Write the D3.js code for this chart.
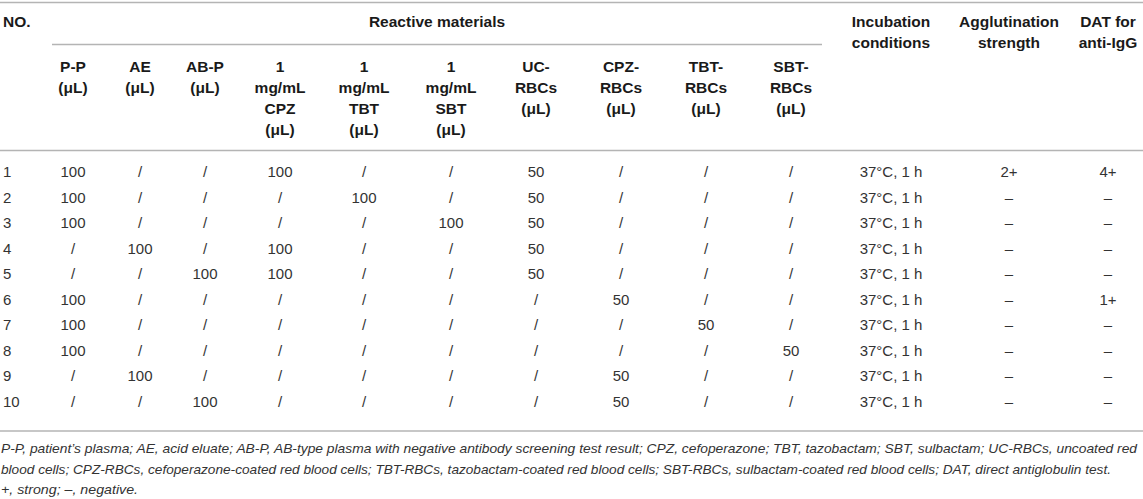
<!DOCTYPE html>
<html>
<head>
<meta charset="utf-8">
<script src="https://cdn.jsdelivr.net/npm/d3@7"></script>
<style>
  html, body { margin: 0; padding: 0; background: #fff; }
  svg { display: block; }
  .hd { font-family: "Liberation Sans", Arial, sans-serif; font-weight: bold; font-size: 15.5px; fill: #1a1a1a; }
  .cell { font-family: "Liberation Sans", Arial, sans-serif; font-size: 15px; fill: #333; }
  .note { font-family: "Liberation Sans", Arial, sans-serif; font-style: italic; font-size: 13px; fill: #333; }
  .rule { stroke: #b4b4b4; stroke-width: 1.6; }
</style>
</head>
<body>
<svg id="table"></svg>
<script>
// --- Table content ---
const groupLabel = "Reactive materials";
const noLabel = ["NO."];
const materialKeys = ["pp", "ae", "abp", "cpz", "tbt", "sbt", "ucRbc", "cpzRbc", "tbtRbc", "sbtRbc"];
const materialHeaders = [
  ["P-P", "(μL)"],
  ["AE", "(μL)"],
  ["AB-P", "(μL)"],
  ["1", "mg/mL", "CPZ", "(μL)"],
  ["1", "mg/mL", "TBT", "(μL)"],
  ["1", "mg/mL", "SBT", "(μL)"],
  ["UC-", "RBCs", "(μL)"],
  ["CPZ-", "RBCs", "(μL)"],
  ["TBT-", "RBCs", "(μL)"],
  ["SBT-", "RBCs", "(μL)"]
];
const resultKeys = ["incubation", "agglutination", "dat"];
const resultHeaders = [
  ["Incubation", "conditions"],
  ["Agglutination", "strength"],
  ["DAT for", "anti-IgG"]
];

const rowNo = ["1", "2", "3", "4", "5", "6", "7", "8", "9", "10"];
const pp = ["100", "100", "100", "/", "/", "100", "100", "100", "/", "/"];
const ae = ["/", "/", "/", "100", "/", "/", "/", "/", "100", "/"];
const abp = ["/", "/", "/", "/", "100", "/", "/", "/", "/", "100"];
const cpz = ["100", "/", "/", "100", "100", "/", "/", "/", "/", "/"];
const tbt = ["/", "100", "/", "/", "/", "/", "/", "/", "/", "/"];
const sbt = ["/", "/", "100", "/", "/", "/", "/", "/", "/", "/"];
const ucRbc = ["50", "50", "50", "50", "50", "/", "/", "/", "/", "/"];
const cpzRbc = ["/", "/", "/", "/", "/", "50", "/", "/", "50", "50"];
const tbtRbc = ["/", "/", "/", "/", "/", "/", "50", "/", "/", "/"];
const sbtRbc = ["/", "/", "/", "/", "/", "/", "/", "50", "/", "/"];
const incubation = ["37°C, 1 h", "37°C, 1 h", "37°C, 1 h", "37°C, 1 h", "37°C, 1 h",
                    "37°C, 1 h", "37°C, 1 h", "37°C, 1 h", "37°C, 1 h", "37°C, 1 h"];
const agglutination = ["2+", "–", "–", "–", "–", "–", "–", "–", "–", "–"];
const dat = ["4+", "–", "–", "–", "–", "1+", "–", "–", "–", "–"];

const footnotes = [
  "P-P, patient’s plasma; AE, acid eluate; AB-P, AB-type plasma with negative antibody screening test result; CPZ, cefoperazone; TBT, tazobactam; SBT, sulbactam; UC-RBCs, uncoated red",
  "blood cells; CPZ-RBCs, cefoperazone-coated red blood cells; TBT-RBCs, tazobactam-coated red blood cells; SBT-RBCs, sulbactam-coated red blood cells; DAT, direct antiglobulin test.",
  "+, strong; –, negative."
];

const columns = { pp, ae, abp, cpz, tbt, sbt, ucRbc, cpzRbc, tbtRbc, sbtRbc, incubation, agglutination, dat };

// --- Layout ---
const W = 1143, H = 499;
const svg = d3.select("#table").attr("width", W).attr("height", H);

const allKeys = materialKeys.concat(resultKeys);
const colX = d3.scaleOrdinal()
  .domain(allKeys)
  .range([73, 140, 205, 280, 364, 451, 536, 621, 706, 791, 891, 1009, 1108]);

const lineH = 21;
const rowY = d3.scaleLinear().domain([0, rowNo.length - 1]).range([177, 407]);

// rules
const rules = [
  { x1: 0, x2: W, y: 2.5 },
  { x1: 52, x2: 822, y: 44.5 },
  { x1: 0, x2: W, y: 150.5 },
  { x1: 0, x2: W, y: 431 }
];
svg.selectAll("line.rule")
  .data(rules)
  .enter()
  .append("line")
  .attr("class", "rule")
  .attr("x1", (d) => d.x1)
  .attr("x2", (d) => d.x2)
  .attr("y1", (d) => d.y)
  .attr("y2", (d) => d.y);

// --- Header ---
const head = svg.append("g");

head.append("text")
  .attr("class", "hd")
  .attr("x", 3)
  .attr("y", 27)
  .text(noLabel[0]);

head.append("text")
  .attr("class", "hd")
  .attr("x", (52 + 822) / 2)
  .attr("y", 27)
  .attr("text-anchor", "middle")
  .text(groupLabel);

function multiline(sel, lines, x, y0) {
  const t = sel.append("text")
    .attr("class", "hd")
    .attr("text-anchor", "middle");
  lines.forEach((ln, i) => {
    t.append("tspan").attr("x", x).attr("y", y0 + i * lineH).text(ln);
  });
}

materialKeys.forEach((k, i) => multiline(head, materialHeaders[i], colX(k), 72));
resultKeys.forEach((k, i) => multiline(head, resultHeaders[i], colX(k), 27));

// --- Body ---
const body = svg.append("g");

body.selectAll("text.no")
  .data(rowNo)
  .enter()
  .append("text")
  .attr("class", "cell no")
  .attr("x", 3)
  .attr("y", (d, i) => rowY(i))
  .text((d) => d);

allKeys.forEach((k) => {
  body.selectAll(`text.c-${k}`)
    .data(columns[k])
    .enter()
    .append("text")
    .attr("class", `cell c-${k}`)
    .attr("x", colX(k))
    .attr("y", (d, i) => rowY(i))
    .attr("text-anchor", "middle")
    .text((d) => d);
});

// --- Footnote ---
const noteWidths = [1136, 1110, 137];
svg.selectAll("text.note")
  .data(footnotes)
  .enter()
  .append("text")
  .attr("class", "note")
  .attr("x", 1)
  .attr("y", (d, i) => 453 + i * 20.5)
  .attr("textLength", (d, i) => noteWidths[i])
  .attr("lengthAdjust", "spacingAndGlyphs")
  .text((d) => d);
</script>
</body>
</html>
